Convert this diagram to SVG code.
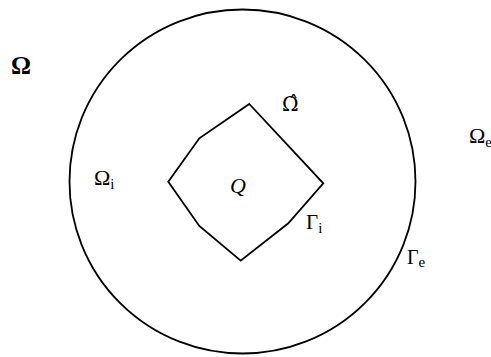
<svg xmlns="http://www.w3.org/2000/svg" width="491" height="357" viewBox="0 0 491 357">
<style>
.ln{fill:none;stroke:#000;stroke-width:1.8;stroke-linejoin:miter}
.t{font-family:"Liberation Serif","DejaVu Serif",serif;fill:#000}
.sub{font-size:15px}
</style>
<rect width="491" height="357" fill="#fff"/>
<g id="outer-circle"><ellipse class="ln" cx="242.5" cy="181.5" rx="173" ry="172"/></g>
<g id="region-Q"><polygon class="ln" points="249.3,104 323.3,183.3 288.3,223.3 240.7,260.7 199.3,226 168.3,181.7 199.3,138.3"/></g>
<g id="labels">
<text class="t" x="11" y="74" font-size="25" font-weight="bold">Ω</text>
<text x="282" y="111" font-size="20" font-family="'DejaVu Serif',serif">Ω̂</text>
<text class="t" x="469" y="143" font-size="22">Ω<tspan class="sub" dy="4">e</tspan></text>
<text class="t" x="94" y="185" font-size="22">Ω<tspan class="sub" dy="4">i</tspan></text>
<text class="t" x="230" y="193" font-size="22" font-style="italic">Q</text>
<text class="t" x="306" y="229" font-size="21">Γ<tspan class="sub" dy="4">i</tspan></text>
<text class="t" x="407" y="264" font-size="20">Γ<tspan class="sub" dy="3">e</tspan></text>
</g>
</svg>
